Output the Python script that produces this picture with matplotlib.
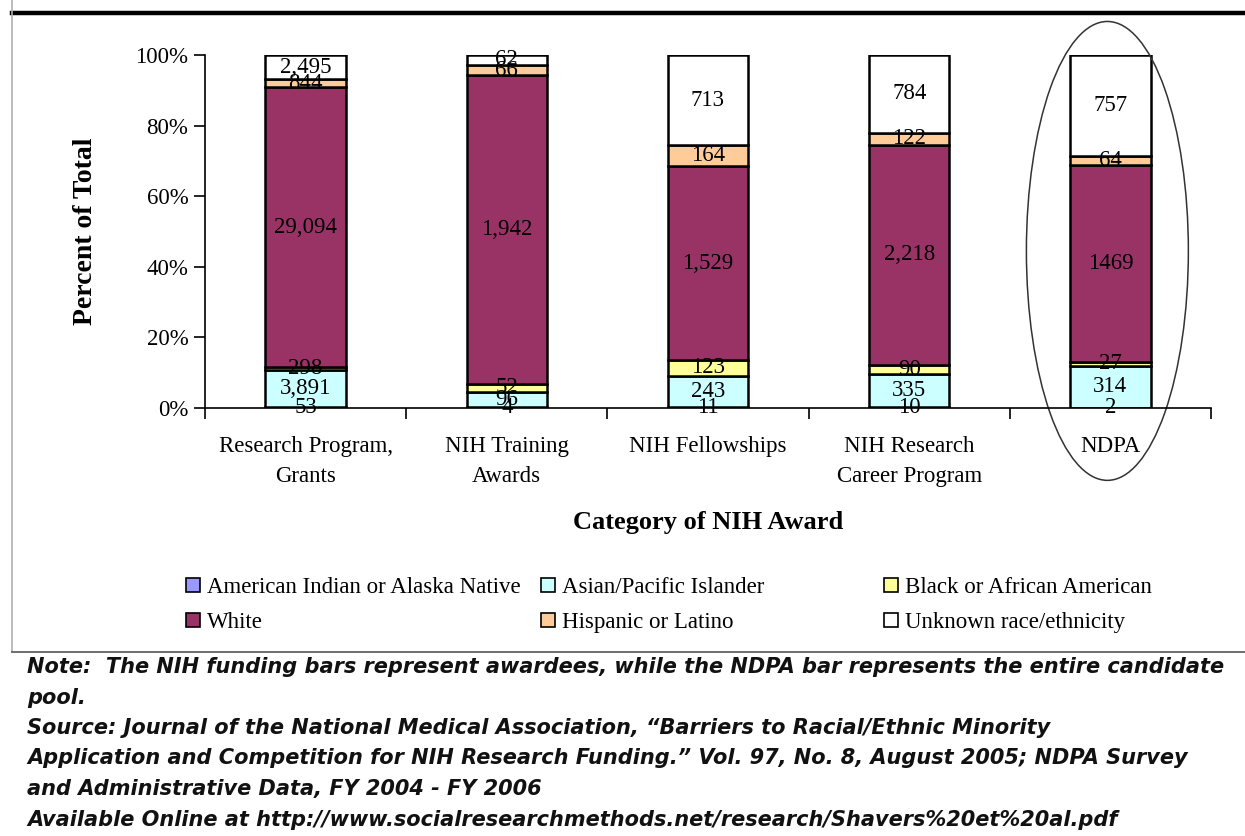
import matplotlib
matplotlib.use("Agg")
import matplotlib.pyplot as plt
from matplotlib.patches import Ellipse
from matplotlib.lines import Line2D
import numpy as np

categories = ["Research Program,\nGrants", "NIH Training\nAwards", "NIH Fellowships",
              "NIH Research\nCareer Program", "NDPA"]
groups = ["American Indian or Alaska Native", "Asian/Pacific Islander",
          "Black or African American", "White", "Hispanic or Latino",
          "Unknown race/ethnicity"]
american_indian = [53, 4, 11, 10, 2]
asian_pacific = [3891, 96, 243, 335, 314]
black = [298, 52, 123, 90, 27]
white = [29094, 1942, 1529, 2218, 1469]
hispanic = [844, 66, 164, 122, 64]
unknown = [2495, 62, 713, 784, 757]
labels_fmt = [
    ["53", "4", "11", "10", "2"],
    ["3,891", "96", "243", "335", "314"],
    ["298", "52", "123", "90", "27"],
    ["29,094", "1,942", "1,529", "2,218", "1469"],
    ["844", "66", "164", "122", "64"],
    ["2,495", "62", "713", "784", "757"],
]
colors = ["#9999FF", "#CCFFFF", "#FFFF99", "#993366", "#FFCC99", "#FFFFFF"]

serif = "Liberation Serif"
fs = 16.5

series = np.array([american_indian, asian_pacific, black, white, hispanic, unknown], float)
pct = series / series.sum(axis=0) * 100

fig = plt.figure(figsize=(12.45, 8.36), dpi=100)
ax = fig.add_axes([205/1245, 1 - 408/836, (1211-205)/1245, (408-55)/836])

x = np.arange(len(categories))
bottom = np.zeros(len(categories))
handles = []
for i in range(len(groups)):
    h = ax.bar(x, pct[i], 0.4, bottom=bottom, color=colors[i], edgecolor="black",
               linewidth=1.8, label=groups[i])
    handles.append(h)
    for j in range(len(categories)):
        ax.text(x[j], bottom[j] + pct[i][j] / 2, labels_fmt[i][j], ha="center", va="center",
                fontsize=fs, family=serif, color="black")
    bottom += pct[i]

ax.set_xlim(-0.5, 4.5)
ax.set_ylim(0, 100)
ax.spines["top"].set_visible(False)
ax.spines["right"].set_visible(False)
ax.spines["left"].set_linewidth(1.2)
ax.spines["bottom"].set_linewidth(1.2)
ax.set_yticks(np.arange(0, 101, 20))
ax.set_yticklabels([f"{v}%" for v in range(0, 101, 20)], family=serif, fontsize=fs)
ax.tick_params(axis="y", direction="out", length=8, width=1.2, pad=4)
ax.set_xticks(x)
ax.set_xticklabels(categories, family=serif, fontsize=fs, linespacing=1.55)
ax.tick_params(axis="x", which="major", length=0, pad=20)
ax.set_xticks(np.arange(-0.5, 5, 1), minor=True)
ax.tick_params(axis="x", which="minor", direction="out", length=8, width=1.2)
ax.set_ylabel("Percent of Total", family=serif, fontsize=20, fontweight="bold")
ax.yaxis.label.set_va("center")
ax.yaxis.set_label_coords(-(205 - 85) / 1006, 0.5)
ax.set_xlabel("Category of NIH Award", family=serif, fontsize=19, fontweight="bold")
ax.xaxis.label.set_va("center")
ax.xaxis.set_label_coords(0.5, -(522 - 408) / 353)

ell = Ellipse((3.985, 44.5), 0.805, 130, fill=False, edgecolor="#333333", linewidth=1.1,
              transform=ax.transData, clip_on=False)
ax.add_patch(ell)

# legend in three equal columns, like the original
col_x = [186/1245, 541/1245, 884/1245]
for c in range(3):
    leg = fig.legend(handles=[handles[c], handles[c + 3]], labels=[groups[c], groups[c + 3]],
                     loc="upper left", bbox_to_anchor=(col_x[c], 1 - 577/836),
                     frameon=False, prop={"family": serif, "size": fs},
                     handlelength=0.6, handleheight=0.6, handletextpad=0.3,
                     labelspacing=0.62, borderaxespad=0, borderpad=0)
    for p in leg.get_patches():
        p.set_linewidth(1.2)

# frame lines
fig.add_artist(Line2D([12/1245, 1], [1 - 13/836, 1 - 13/836], color="black", linewidth=3.2))
fig.add_artist(Line2D([12/1245, 12/1245], [1 - 652/836, 1], color="#b0b0b0", linewidth=1.2))
fig.add_artist(Line2D([12/1245, 1], [1 - 652/836, 1 - 652/836], color="#555555", linewidth=1.2))

note_lines = [
    "Note:  The NIH funding bars represent awardees, while the NDPA bar represents the entire candidate",
    "pool.",
    "Source: Journal of the National Medical Association, \u201cBarriers to Racial/Ethnic Minority",
    "Application and Competition for NIH Research Funding.\u201d Vol. 97, No. 8, August 2005; NDPA Survey",
    "and Administrative Data, FY 2004 - FY 2006",
    "Available Online at http://www.socialresearchmethods.net/research/Shavers%20et%20al.pdf",
]
for k, line in enumerate(note_lines):
    fig.text(27/1245, 1 - (667 + k * 30.5)/836, line, ha="left", va="center",
             fontsize=15, style="italic", fontweight="bold", family="DejaVu Sans",
             color="#111111")

fig.savefig("out.png", dpi=100, facecolor="white")
